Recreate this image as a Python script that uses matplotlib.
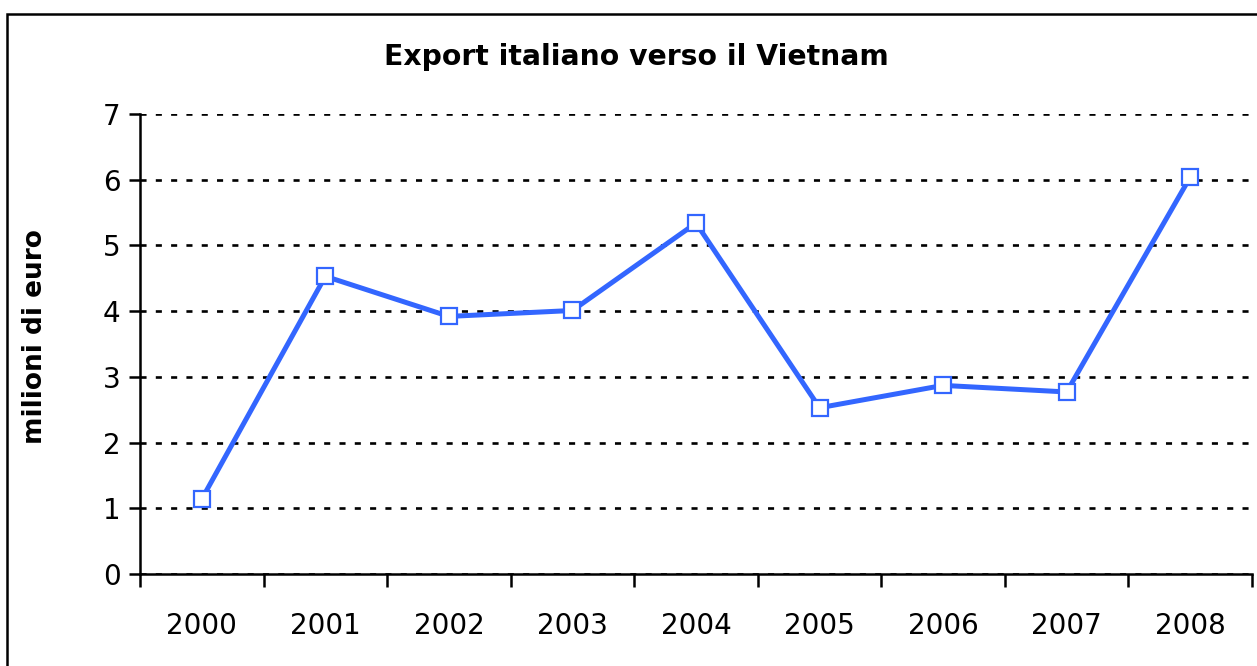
import matplotlib
matplotlib.use('Agg')
import matplotlib.pyplot as plt
import numpy as np
from matplotlib.patches import Rectangle

# dati (milioni di euro)
anni = ['2000', '2001', '2002', '2003', '2004', '2005', '2006', '2007', '2008']
export = [1.14, 4.53, 3.92, 4.01, 5.34, 2.53, 2.87, 2.77, 6.04]
y_ticks = [0, 1, 2, 3, 4, 5, 6, 7]

plt.rcParams['font.family'] = ['DejaVu Sans']

fig = plt.figure(figsize=(12.57, 6.66), dpi=100)
ax = fig.add_axes([140 / 1257, 1 - 574 / 666, 1112 / 1257, 460 / 666])

# cornice esterna del grafico
fig.patches.append(Rectangle((7 / 1257, -0.1), 1.2, 1 - 14 / 666 + 0.1,
                             transform=fig.transFigure, fill=False,
                             edgecolor='black', linewidth=1.8))

x = np.arange(len(anni))
ax.plot(x, export, color='#3366FF', linewidth=3.6, marker='s', markersize=11.5,
        markerfacecolor='white', markeredgecolor='#3366FF', markeredgewidth=1.6,
        zorder=3)

ax.set_xlim(-0.5, len(anni) - 0.5)
ax.set_ylim(0, 7)
ax.set_yticks(y_ticks)
ax.set_xticks(x)
ax.set_xticklabels(anni)
ax.set_xticks(np.arange(len(anni) + 1) - 0.5, minor=True)
ax.tick_params(axis='x', which='major', length=0, pad=27, labelsize=20)
ax.tick_params(axis='x', which='minor', length=9, width=1.8, direction='out')
ax.tick_params(axis='y', length=8, width=1.8, pad=6, labelsize=20)

ax.yaxis.grid(True, color='black', linestyle=(0, (2.3, 3.5)), linewidth=1.9)
ax.set_axisbelow(True)

for s in ['top', 'right']:
    ax.spines[s].set_visible(False)
for s in ['left', 'bottom']:
    ax.spines[s].set_linewidth(1.8)

fig.text(636 / 1257, 1 - 57 / 666, 'Export italiano verso il Vietnam',
         ha='center', va='center', fontsize=20.3, fontweight='bold')
fig.text(35 / 1257, 1 - 337 / 666, 'milioni di euro', rotation=90,
         ha='center', va='center', fontsize=19, fontweight='bold')

fig.savefig('out.png', dpi=100)
